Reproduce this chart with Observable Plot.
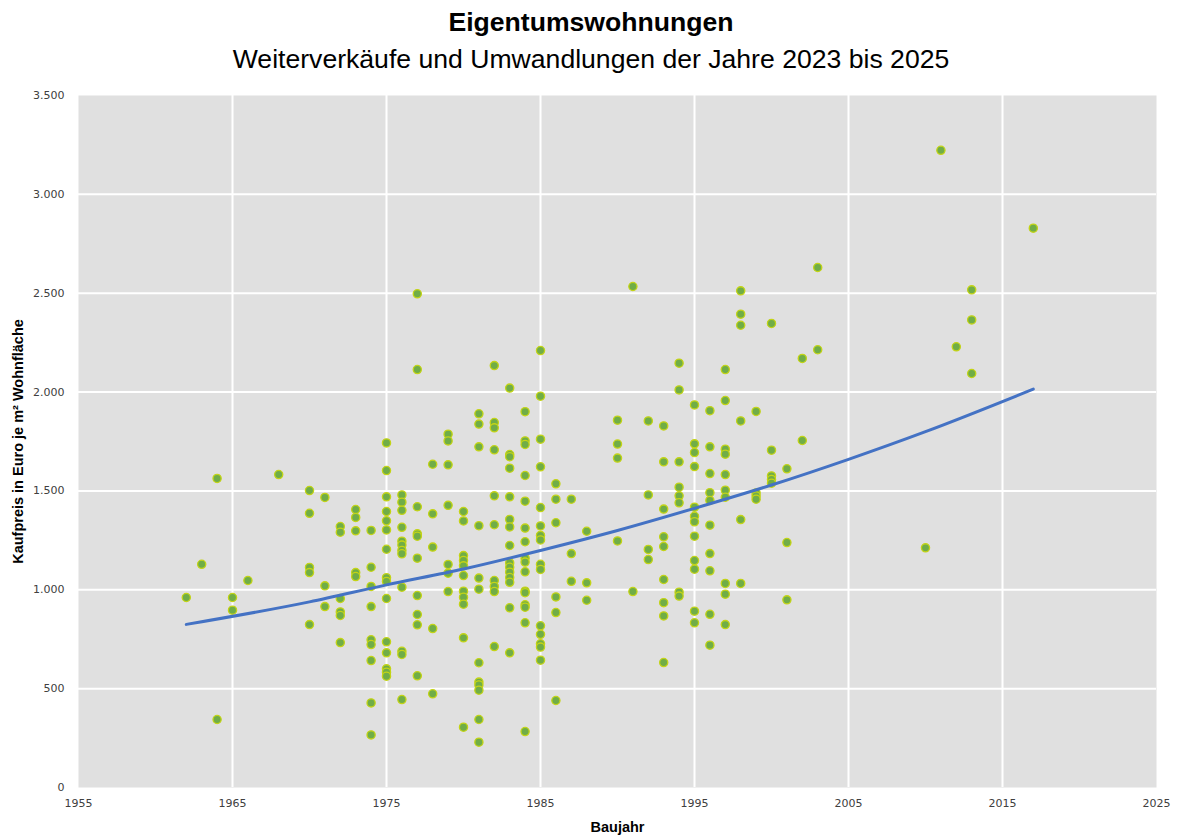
<!DOCTYPE html>
<html>
<head>
<meta charset="utf-8">
<script src="https://cdn.jsdelivr.net/npm/d3@7"></script>
<script src="https://cdn.jsdelivr.net/npm/@observablehq/plot@0.6"></script>
<style>
  html, body { margin: 0; padding: 0; background: #fff; }
  #wrap { position: relative; width: 1182px; height: 836px; overflow: hidden; }
  .t { position: absolute; left: 0; width: 1182px; text-align: center; font-family: "Liberation Sans", Arial, sans-serif; color: #000; line-height: 26px; white-space: nowrap; }
  #title { top: 9px; font-size: 26.6px; font-weight: bold; }
  #subtitle { top: 46px; font-size: 26.6px; }
  #chart { position: absolute; left: 0; top: 80px; }
</style>
</head>
<body>
<div id="wrap">
  <div id="title" class="t">Eigentumswohnungen</div>
  <div id="subtitle" class="t">Weiterverkäufe und Umwandlungen der Jahre 2023 bis 2025</div>
  <div id="chart"></div>
</div>
<script>
// Baujahre and the Kaufpreise (Euro je m² Wohnfläche)
const jahre = [1962, 1963, 1964, 1965, 1966, 1968, 1970, 1971, 1972, 1973, 1974, 1975, 1976, 1977, 1978, 1979, 1980,
  1981, 1982, 1983, 1984, 1985, 1986, 1987, 1988, 1990, 1991, 1992, 1993, 1994, 1995, 1996, 1997, 1998, 1999,
  2000, 2001, 2002, 2003, 2010, 2011, 2012, 2013, 2017];
const preise = [
  [961],
  [1129],
  [1563, 344],
  [961, 897],
  [1047],
  [1583],
  [1502, 1387, 1113, 1087, 824],
  [1467, 1020, 915],
  [1320, 1291, 956, 888, 870, 733],
  [1406, 1366, 1298, 1087, 1067],
  [1300, 1114, 1017, 915, 747, 723, 642, 428, 266],
  [1743, 1603, 1470, 1396, 1349, 1303, 1205, 1061, 1042, 956, 737, 681, 600, 583, 563],
  [1480, 1443, 1402, 1316, 1246, 1226, 1199, 1182, 1013, 689, 673, 445],
  [2497, 2114, 1420, 1283, 1271, 1160, 971, 875, 823, 565],
  [1635, 1384, 1216, 804, 474],
  [1787, 1753, 1632, 1427, 1128, 1084, 991],
  [1396, 1348, 1173, 1148, 1121, 1072, 993, 962, 927, 757, 305],
  [1890, 1838, 1723, 1324, 1059, 1003, 631, 533, 519, 492, 344, 229],
  [2134, 1846, 1819, 1708, 1475, 1329, 1047, 1017, 991, 713],
  [2020, 1684, 1673, 1615, 1470, 1356, 1318, 1224, 1136, 1114, 1089, 1062, 1038, 909, 681],
  [1901, 1753, 1735, 1578, 1448, 1312, 1243, 1160, 1140, 1091, 993, 985, 924, 912, 833, 283],
  [2210, 1979, 1762, 1622, 1416, 1323, 1275, 1252, 1129, 1103, 818, 775, 727, 710, 644],
  [1536, 1458, 1339, 964, 885, 440],
  [1458, 1183, 1043],
  [1296, 1035, 947],
  [1858, 1737, 1666, 1247],
  [2534, 991],
  [1854, 1480, 1204, 1153],
  [1829, 1647, 1408, 1268, 1219, 1052, 935, 868, 632],
  [2146, 2011, 1647, 1519, 1475, 1440, 988, 968],
  [1935, 1738, 1694, 1623, 1418, 1372, 1344, 1271, 1148, 1104, 892, 833],
  [1906, 1723, 1588, 1491, 1452, 1327, 1183, 1096, 876, 720],
  [2114, 1957, 1711, 1686, 1583, 1504, 1468, 1032, 978, 824],
  [2512, 2394, 2338, 1854, 1355, 1032],
  [1902, 1490, 1474, 1458],
  [2347, 1706, 1576, 1558, 1539],
  [1612, 1239, 949],
  [2170, 1755],
  [2630, 2214],
  [1212],
  [3223],
  [2229],
  [2517, 2365, 2094],
  [2829]
];

// Trendlinie (exponentiell)
const trendJahr = [1962, 1970, 1975, 1980, 1985, 1990, 1995, 2000, 2005, 2010, 2017];
const trendPreis = [825, 939, 1025, 1105, 1199, 1300, 1412, 1530, 1660, 1800, 2015];

// Axis ticks
const xTicks = [1955, 1965, 1975, 1985, 1995, 2005, 2015, 2025];
const yTicks = [0, 500, 1000, 1500, 2000, 2500, 3000, 3500];

const points = jahre.flatMap((j, i) => preise[i].map(p => ({jahr: j, preis: p})));
const trend = trendJahr.map((j, i) => ({jahr: j, preis: trendPreis[i]}));

const de = d3.formatLocale({decimal: ",", thousands: ".", grouping: [3], currency: ["", " €"]});
const fmt = de.format(",");

const chart = Plot.plot({
  width: 1182,
  height: 756,
  marginLeft: 78,
  marginRight: 26,
  marginTop: 15,
  marginBottom: 49,
  style: {background: "transparent", overflow: "visible"},
  x: {domain: [1955, 2025]},
  y: {domain: [0, 3500]},
  marks: [
    Plot.frame({fill: "#e0e0e0", stroke: null}),
    Plot.gridX(xTicks.slice(1, -1), {stroke: "#ffffff", strokeOpacity: 1, strokeWidth: 2}),
    Plot.gridY(yTicks.slice(1, -1), {stroke: "#ffffff", strokeOpacity: 1, strokeWidth: 2}),
    Plot.axisX(xTicks, {tickSize: 0, tickPadding: 12, tickFormat: d => String(d), label: null,
      fontFamily: "DejaVu Sans", fontSize: 11, fill: "#404040"}),
    Plot.axisY(yTicks, {tickSize: 0, tickPadding: 14, tickFormat: fmt, label: null,
      fontFamily: "DejaVu Sans", fontSize: 11, fill: "#404040"}),
    Plot.dot(points, {x: "jahr", y: "preis", r: 4.1, fill: "#70ad47", stroke: "#c4d416", strokeWidth: 1.3}),
    Plot.line(trend, {x: "jahr", y: "preis", stroke: "#4472c4", strokeWidth: 3, curve: "monotone-x"}),
    Plot.text(["Kaufpreis in Euro je m² Wohnfläche"], {frameAnchor: "left", dx: -60, rotate: -90,
      textAnchor: "middle", fontFamily: "Liberation Sans", fontWeight: "bold", fontSize: 14.5, fill: "#000"}),
    Plot.text(["Baujahr"], {frameAnchor: "bottom", dy: 44,
      fontFamily: "Liberation Sans", fontWeight: "bold", fontSize: 14.5, fill: "#000"})
  ]
});
document.getElementById("chart").appendChild(chart);
</script>
</body>
</html>
